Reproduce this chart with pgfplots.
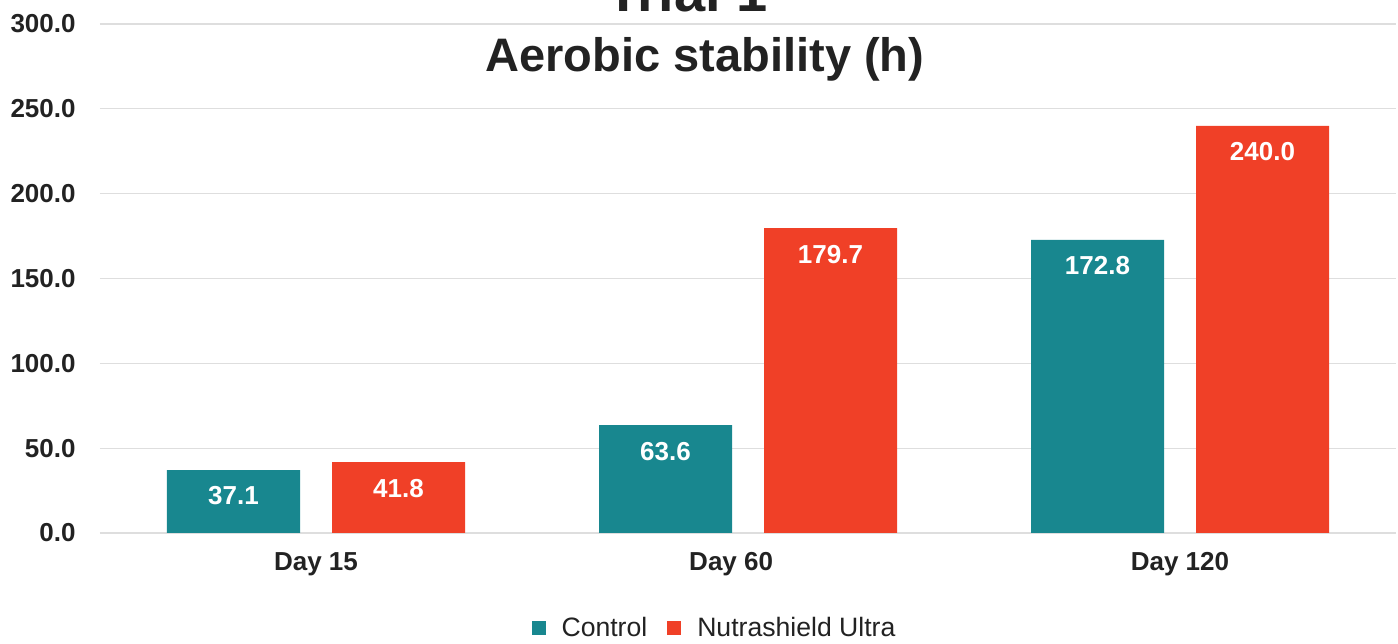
\documentclass[border=0pt]{standalone}
\usepackage{pgfplots}
\pgfplotsset{compat=1.18}
\usepackage{fontspec}
\setmainfont{Liberation Sans}
\definecolor{teal1}{RGB}{24,135,143}
\definecolor{red1}{RGB}{240,64,39}
\definecolor{txt}{RGB}{34,34,34}
\definecolor{gridc}{RGB}{222,222,222}
\begin{document}
\begin{tikzpicture}
\path (-50pt,-54.5pt) rectangle (649pt,266.5pt);
\begin{axis}[
  at={(0,0)}, anchor=south west,
  scale only axis, width=648pt, height=254.5pt,
  ybar=16pt, bar width=66.5pt,
  xmin=-0.5, xmax=2.5, ymin=0, ymax=300,
  xtick={0,0.961,2}, xticklabels={Day 15, Day 60, Day 120},
  ytick={0,50,...,300},
  ymajorgrids, grid style={gridc, line width=0.6pt},
  axis line style={draw=none},
  major tick length=0pt,
  /pgf/number format/assume math mode=true,
  yticklabel={\pgfmathprintnumber[fixed,fixed zerofill,precision=1]{\tick}},
  yticklabel style={font=\fontsize{13}{15}\selectfont\bfseries, text=txt, inner sep=0pt, anchor=east, xshift=-12pt},
  xticklabel style={font=\fontsize{13}{15}\selectfont\bfseries, text=txt, inner sep=0pt, anchor=north, yshift=-9.5pt},
  nodes near coords={\pgfmathprintnumber[fixed,fixed zerofill,precision=1]{\pgfplotspointmeta}},
  nodes near coords style={font=\fontsize{13}{15}\selectfont\bfseries, text=white, anchor=center, yshift=-13pt},
  legend style={at={(0.4749,-0.1876)}, anchor=center, draw=none, inner sep=0pt,
    font=\fontsize{13.3}{15}\selectfont, text=txt, legend columns=2,
    /tikz/every even column/.append style={column sep=8pt}},
  legend image code/.code={\fill[#1, draw=none] (0pt,-3.5pt) rectangle (7pt,3.5pt); \path (13pt,0pt);},
]
\addplot[fill=teal1, draw=none] coordinates {(0,37.1) (1,63.6) (2,172.8)};
\addplot[fill=red1, draw=none] coordinates {(0,41.8) (1,179.7) (2,240.0)};
\legend{Control, Nutrashield Ultra}
\end{axis}
\node[overlay, anchor=base, font=\fontsize{28}{30}\selectfont\bfseries, text=txt] at (293.5pt,260.5pt) {Trial 1};
\node[anchor=base, font=\fontsize{23.5}{26}\selectfont\bfseries, text=txt] at (302.5pt,230.5pt) {Aerobic stability (h)};
\end{tikzpicture}
\end{document}
